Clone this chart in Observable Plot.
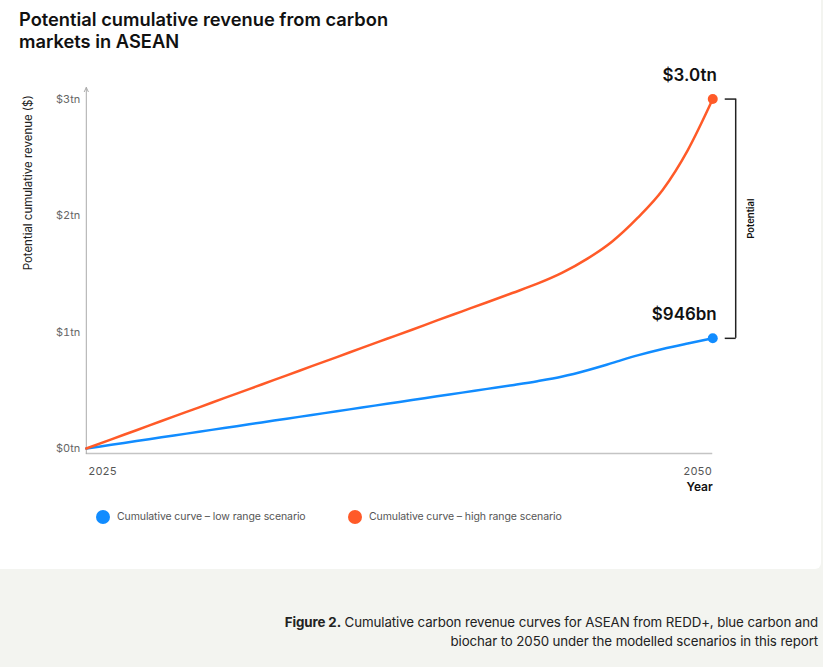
<!DOCTYPE html>
<html><head><meta charset="utf-8">
<script src="https://cdn.jsdelivr.net/npm/d3@7"></script>
<script src="https://cdn.jsdelivr.net/npm/@observablehq/plot@0.6"></script>
<style>
body{margin:0;background:#f3f4f0;font-family:Inter,"Noto Sans",sans-serif;width:823px;height:667px;overflow:hidden;position:relative}
#panel{position:absolute;left:0;top:0;width:821px;height:569px;background:#fff;border-bottom-right-radius:6px}
.tl{position:absolute;left:19px;font-size:18.3px;line-height:18.3px;height:18.3px;font-weight:600;color:#111;white-space:nowrap}
#chart{position:absolute;left:0;top:60px}
.leg{position:absolute;top:510px;font-size:10.5px;letter-spacing:-0.1px;color:#555;display:flex;align-items:center;line-height:14px}
.leg .dot{width:14px;height:14px;border-radius:50%;margin-right:7px}
#caption{position:absolute;right:5px;top:613px;text-align:right;font-size:13.3px;line-height:19px;color:#222;letter-spacing:-0.1px}
</style></head>
<body>
<div id="panel">
  <div id="title"></div>
  <div id="chart"></div>
  <div id="legend"></div>
</div>
<div id="caption"></div>
<script>
const years = [2025,2026,2027,2028,2029,2030,2031,2032,2033,2034,2035,2036,2037,2038,2039,2040,2041,2042,2043,2044,2045,2046,2047,2048,2049,2050];
const lowValues = [0,0.032,0.064,0.096,0.128,0.16,0.192,0.224,0.256,0.288,0.32,0.352,0.384,0.416,0.448,0.48,0.512,0.544,0.578,0.618,0.672,0.735,0.80,0.855,0.902,0.946];
const highValues = [0,0.079,0.157,0.236,0.314,0.393,0.471,0.55,0.628,0.707,0.785,0.864,0.942,1.02,1.10,1.178,1.256,1.335,1.415,1.51,1.63,1.78,1.98,2.22,2.56,3.0];
const seriesNames = ["Cumulative curve – low range scenario","Cumulative curve – high range scenario"];
const seriesColors = ["#118cff","#ff5a28"];
const endLabels = ["$946bn","$3.0tn"];
const yTicks = [0,1,2,3];
const xTicks = [2025,2050];
const yLabel = "Potential cumulative revenue ($)";
const xLabel = "Year";
const bracketLabel = "Potential";
const yDomain = [-0.043, 3.1];
const xDomain = [2025, 2050];
const titleText = ["Potential cumulative revenue from carbon","markets in ASEAN"];
const captionBold = "Figure 2.";
const captionLines = ["Cumulative carbon revenue curves for ASEAN from REDD+, blue carbon and","biochar to 2050 under the modelled scenarios in this report"];

const rows = years.flatMap((yr,i)=>[
  {year:yr, value:lowValues[i], series:seriesNames[0]},
  {year:yr, value:highValues[i], series:seriesNames[1]}
]);
const lastYear = years[years.length-1];
const lowEnd = lowValues[lowValues.length-1];
const highEnd = highValues[highValues.length-1];
const ends = [
  {year:lastYear, value:lowEnd, label:endLabels[0], series:seriesNames[0]},
  {year:lastYear, value:highEnd, label:endLabels[1], series:seriesNames[1]}
];
const tickSym = {draw(ctx){ const r = 5.5; ctx.moveTo(-r,0); ctx.lineTo(r,0); }};

const chart = Plot.plot({
  width:823, height:445, marginLeft:86, marginRight:109, marginTop:27, marginBottom:51,
  style:{fontFamily:"Inter, sans-serif", fontSize:"11px", background:"transparent", overflow:"visible"},
  x:{domain:xDomain},
  y:{domain:yDomain},
  color:{domain:seriesNames, range:seriesColors},
  marks:[
    Plot.ruleY([yDomain[0]], {stroke:"#c4c4c4", strokeWidth:1.5}),
    Plot.arrow([0], {x1:xDomain[0], x2:xDomain[0], y1:yDomain[0], y2:yDomain[1], stroke:"#aaa", strokeWidth:1, headLength:7, headAngle:50}),
    Plot.axisY({ticks:yTicks, tickSize:0, tickPadding:6, tickFormat:d=>`$${d}tn`, fill:"#666", label:null}),
    Plot.axisX({ticks:[xTicks[0]], tickSize:0, tickPadding:14, tickFormat:d=>String(d), textAnchor:"start", dx:2, fill:"#555", label:null}),
    Plot.axisX({ticks:[xTicks[1]], tickSize:0, tickPadding:14, tickFormat:d=>String(d), textAnchor:"end", dx:-1, fill:"#555", label:null}),
    Plot.text([xLabel], {frameAnchor:"bottom-right", textAnchor:"end", dy:38, fontSize:12, fontWeight:600, fill:"#111"}),
    Plot.text([yLabel], {frameAnchor:"top-left", rotate:-90, textAnchor:"end", dx:-63, dy:8, fontSize:11.5, fill:"#222"}),
    Plot.line(rows, {x:"year", y:"value", stroke:"series", strokeWidth:2.5, curve:"monotone-x"}),
    Plot.dot(ends, {x:"year", y:"value", fill:"series", r:5}),
    Plot.text(ends, {x:"year", y:"value", text:"label", textAnchor:"end", dx:4, dy:-24, fontSize:17, fontWeight:600, fill:"#111"}),
    Plot.ruleX([lastYear], {y1:lowEnd, y2:highEnd, dx:23, stroke:"#222", strokeWidth:1.5}),
    Plot.dot([lowEnd, highEnd], {x:()=>lastYear, y:d=>d, symbol:tickSym, fill:"none", stroke:"#222", strokeWidth:1.5, dx:17.5}),
    Plot.text([bracketLabel], {x:()=>lastYear, y:()=>(lowEnd+highEnd)/2, rotate:-90, dx:38, fontSize:9.5, fontWeight:600, fill:"#111"})
  ]
});
document.getElementById("chart").appendChild(chart);

const titleTops = [9.5, 31.5];
document.getElementById("title").innerHTML = titleText.map((t,i)=>`<div class="tl" style="top:${titleTops[i]}px">${t}</div>`).join("");
const legendLefts = [96, 348];
document.getElementById("legend").innerHTML = seriesNames.map((n,i)=>
  `<div class="leg" style="left:${legendLefts[i]}px"><span class="dot" style="background:${seriesColors[i]}"></span>${n}</div>`).join("");
document.getElementById("caption").innerHTML = `<b>${captionBold}</b> ${captionLines[0]}<br>${captionLines[1]}`;
</script>
</body></html>
